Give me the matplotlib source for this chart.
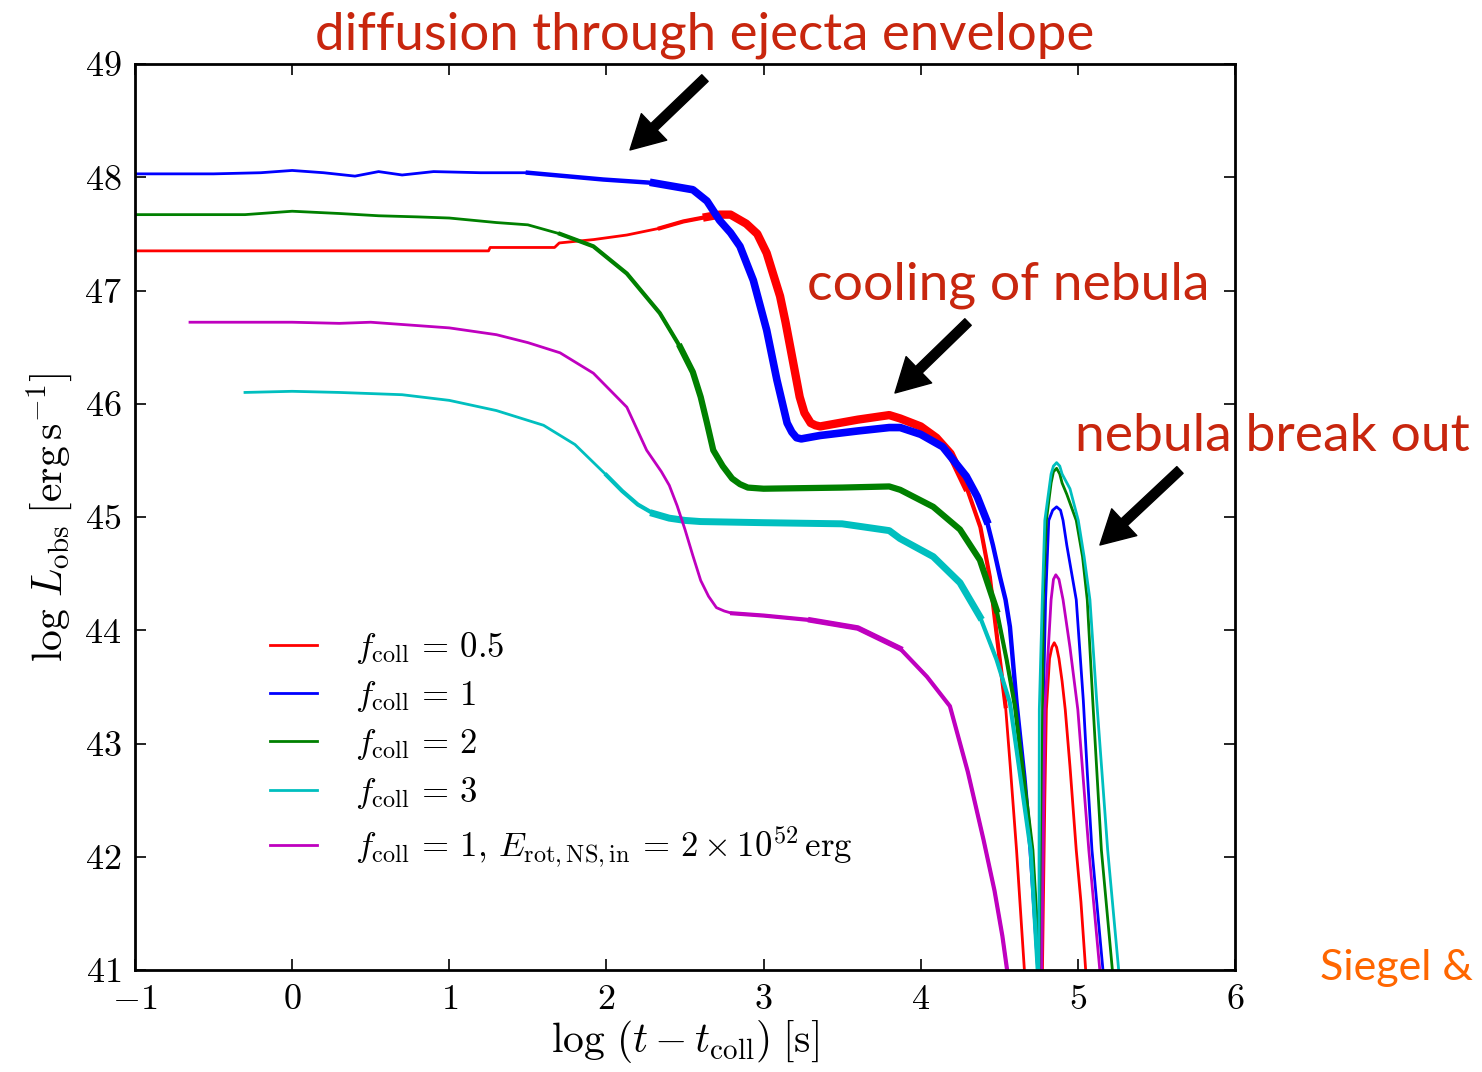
import numpy as np
import matplotlib
matplotlib.use("Agg")
from matplotlib import pyplot as plt

plt.rcParams['font.family'] = 'serif'
plt.rcParams['font.serif'] = ['cmr10']
plt.rcParams['mathtext.fontset'] = 'cm'
plt.rcParams['axes.formatter.use_mathtext'] = True

# light curves: log(t - t_coll) vs log L_obs
red_x = [-1.0, 0.5, 1.25, 1.26, 1.67, 1.70, 1.92, 2.13, 2.34, 2.49, 2.64, 2.72, 2.79, 2.89, 2.96,
         3.02, 3.06, 3.105, 3.14, 3.17, 3.23, 3.26, 3.30, 3.33, 3.36, 3.6, 3.8, 3.87, 4.0, 4.1,
         4.19, 4.29, 4.38, 4.44, 4.49, 4.54, 4.57, 4.61, 4.66, 4.72, 4.775, 4.79, 4.80, 4.82,
         4.835, 4.85, 4.865, 4.88, 4.90, 4.92, 4.95, 4.99, 5.02, 5.05, 5.08]
red_y = [47.35, 47.35, 47.35, 47.38, 47.38, 47.42, 47.45, 47.49, 47.55, 47.61, 47.65, 47.67, 47.67, 47.59, 47.50,
         47.33, 47.15, 46.95, 46.72, 46.50, 46.06, 45.92, 45.83, 45.81, 45.80, 45.86, 45.90, 45.87, 45.80, 45.70,
         45.56, 45.27, 44.91, 44.47, 43.89, 43.33, 42.80, 42.06, 41.0, 39.5, 41.0, 42.5, 43.3, 43.75,
         43.85, 43.89, 43.85, 43.75, 43.55, 43.3, 42.8, 42.06, 41.6, 41.0, 40.5]

blue_x = [-1.0, -0.5, -0.2, 0.0, 0.2, 0.4, 0.55, 0.7, 0.9, 1.2, 1.5, 1.98, 2.3, 2.55, 2.64, 2.72,
          2.79, 2.85, 2.935, 3.02, 3.085, 3.15, 3.18, 3.21, 3.24, 3.28, 3.36, 3.6, 3.8, 3.87, 4.0,
          4.14, 4.29, 4.36, 4.42, 4.46, 4.505, 4.54, 4.568, 4.61, 4.66, 4.70, 4.75, 4.758, 4.765,
          4.78, 4.795, 4.815, 4.84, 4.865, 4.89, 4.906, 4.93, 4.99, 5.035, 5.06, 5.09, 5.16, 5.2]
blue_y = [48.03, 48.03, 48.04, 48.06, 48.04, 48.01, 48.05, 48.02, 48.05, 48.04, 48.04, 47.98, 47.95, 47.89, 47.79, 47.62,
          47.51, 47.39, 47.09, 46.65, 46.21, 45.83, 45.75, 45.70, 45.69, 45.70, 45.72, 45.76, 45.79, 45.79, 45.73,
          45.62, 45.36, 45.18, 44.97, 44.75, 44.47, 44.27, 44.03, 43.36, 42.70, 42.06, 41.0, 39.5, 41.0,
          43.3, 44.27, 44.97, 45.06, 45.09, 45.06, 44.97, 44.75, 44.27, 43.38, 42.75, 42.06, 41.0, 40.5]

green_x = [-1.0, -0.3, 0.0, 0.3, 0.55, 0.8, 1.0, 1.3, 1.5, 1.705, 1.917, 2.13, 2.34, 2.47, 2.55, 2.6,
           2.64, 2.68, 2.74, 2.8, 2.85, 2.9, 3.0, 3.5, 3.8, 3.87, 4.08, 4.25, 4.377, 4.483, 4.547,
           4.60, 4.71, 4.755, 4.76, 4.765, 4.78, 4.80, 4.83, 4.845, 4.865, 4.885, 4.90, 4.93, 4.99,
           5.03, 5.06, 5.095, 5.15, 5.22, 5.25]
green_y = [47.67, 47.67, 47.70, 47.68, 47.66, 47.65, 47.64, 47.60, 47.58, 47.50, 47.39, 47.15, 46.80, 46.50, 46.28, 46.06,
           45.83, 45.59, 45.45, 45.34, 45.29, 45.26, 45.25, 45.26, 45.27, 45.24, 45.09, 44.89, 44.62, 44.18, 43.74,
           43.33, 42.06, 41.0, 39.5, 41.0, 44.27, 44.97, 45.3, 45.40, 45.43, 45.38, 45.3, 45.2, 44.97,
           44.65, 44.27, 43.38, 42.06, 41.0, 40.5]

cyan_x = [-0.3, 0.0, 0.3, 0.7, 1.0, 1.3, 1.6, 1.8, 2.0, 2.1, 2.2, 2.3, 2.4, 2.5, 2.6, 3.0, 3.5,
          3.8, 3.868, 4.08, 4.25, 4.377, 4.483, 4.568, 4.70, 4.745, 4.75, 4.752, 4.755, 4.774, 4.79,
          4.83, 4.845, 4.865, 4.885, 4.90, 4.95, 5.003, 5.04, 5.077, 5.12, 5.19, 5.26, 5.3]
cyan_y = [46.10, 46.11, 46.10, 46.08, 46.03, 45.94, 45.81, 45.64, 45.37, 45.23, 45.11, 45.03, 44.99, 44.97, 44.96, 44.95, 44.94,
          44.88, 44.81, 44.65, 44.42, 44.12, 43.74, 43.36, 42.06, 41.0, 39.5, 41.0, 43.3, 44.27, 44.97,
          45.38, 45.45, 45.48, 45.45, 45.38, 45.25, 44.97, 44.65, 44.27, 43.38, 42.06, 41.0, 40.5]

magenta_x = [-0.65, 0.0, 0.3, 0.5, 1.0, 1.3, 1.5, 1.705, 1.917, 2.13, 2.256, 2.35, 2.4, 2.45, 2.5, 2.55,
             2.6, 2.65, 2.7, 2.75, 2.8, 3.0, 3.3, 3.6, 3.868, 4.04, 4.186, 4.30, 4.40, 4.47, 4.52,
             4.55, 4.60, 4.77, 4.79, 4.83, 4.845, 4.86, 4.88, 4.906, 4.95, 5.0, 5.07, 5.14, 5.17]
magenta_y = [46.72, 46.72, 46.71, 46.72, 46.67, 46.61, 46.54, 46.45, 46.27, 45.97, 45.59, 45.40, 45.28, 45.10, 44.89, 44.66,
             44.44, 44.30, 44.20, 44.17, 44.15, 44.13, 44.09, 44.02, 43.84, 43.59, 43.33, 42.75, 42.15, 41.7, 41.3,
             41.0, 39.5, 41.0, 43.3, 44.27, 44.45, 44.49, 44.45, 44.27, 43.85, 43.3, 42.06, 41.0, 40.5]

labels = [r'$f_{\rm coll}\,=\,0.5$', r'$f_{\rm coll}\,=\,1$', r'$f_{\rm coll}\,=\,2$', r'$f_{\rm coll}\,=\,3$',
          r'$f_{\rm coll}\,=\,1,\,E_{\rm rot,NS,in}\,=\,2\times10^{52}\,{\rm erg}$']

xticks = [-1, 0, 1, 2, 3, 4, 5, 6]
yticks = [41, 42, 43, 44, 45, 46, 47, 48, 49]

# colour and the stretches where the dense oscillations make the line look thicker
series = [
    (red_x, red_y, 'r', [(2.3, 4.55, 3.0), (2.6, 4.3, 6.0)]),
    (blue_x, blue_y, 'b', [(1.4, 4.75, 3.2), (2.2, 4.45, 5.5)]),
    (green_x, green_y, 'g', [(1.6, 4.755, 3.0), (2.4, 4.5, 4.5)]),
    (cyan_x, cyan_y, 'c', [(2.0, 4.745, 3.0), (2.3, 4.45, 5.0)]),
    (magenta_x, magenta_y, 'm', [(2.8, 4.55, 3.0), (3.3, 3.95, 4.0)]),
]

fig = plt.figure(figsize=(14.82, 10.72), dpi=100)
ax = fig.add_axes([0.0911, 0.0951, 0.7422, 0.8452])

for (x, y, c, bands), lab in zip(series, labels):
    x = np.array(x)
    y = np.array(y)
    ax.plot(x, y, color=c, lw=2.0, label=lab)
    for lo, hi, lw in bands:
        m = (x >= lo) & (x <= hi)
        ax.plot(x[m], y[m], color=c, lw=lw, solid_joinstyle='round')

ax.set_xlim(-1, 6)
ax.set_ylim(41, 49)
ax.set_xticks(xticks)
ax.set_yticks(yticks)
ax.tick_params(direction='in', length=8, width=1.2, labelsize=26, top=True, right=True, pad=10)
for s in ax.spines.values():
    s.set_linewidth(2.0)

ax.set_xlabel(r'$\log\,(t - t_{\rm coll})\;[{\rm s}]$', fontsize=30, labelpad=2)
ax.set_ylabel(r'$\log\,L_{\rm obs}\;[{\rm erg\,s^{-1}}]$', fontsize=30, labelpad=6)

ax.legend(loc='lower left', bbox_to_anchor=(0.094, 0.076), frameon=False, fontsize=25,
          handlelength=1.37, handletextpad=1.1, labelspacing=0.38)

red = '#c8260e'
fig.text(0.4757, 0.9674, 'diffusion through ejecta envelope', color=red, fontsize=38,
         family='Lato', ha='center', va='center')
fig.text(0.6802, 0.7341, 'cooling of nebula', color=red, fontsize=38.5,
         family='Lato', ha='center', va='center')
fig.text(0.8583, 0.5924, 'nebula break out', color=red, fontsize=38.5,
         family='Lato', ha='center', va='center')
fig.text(0.8907, 0.097, 'Siegel &', color='#ff6600', fontsize=31,
         family='Lato', ha='left', va='center')

arrows = [((0.4757, 0.9272), (0.4251, 0.8601)),
          ((0.6532, 0.6996), (0.6039, 0.6334)),
          ((0.7962, 0.5616), (0.7422, 0.4916))]
for tail, head in arrows:
    fig.add_artist(matplotlib.patches.FancyArrowPatch(
        tail, head, transform=fig.transFigure, arrowstyle='simple,head_width=2.2,head_length=2.0,tail_width=0.55',
        mutation_scale=12, color='black', shrinkA=0, shrinkB=0))

fig.savefig('out.png', dpi=100)
